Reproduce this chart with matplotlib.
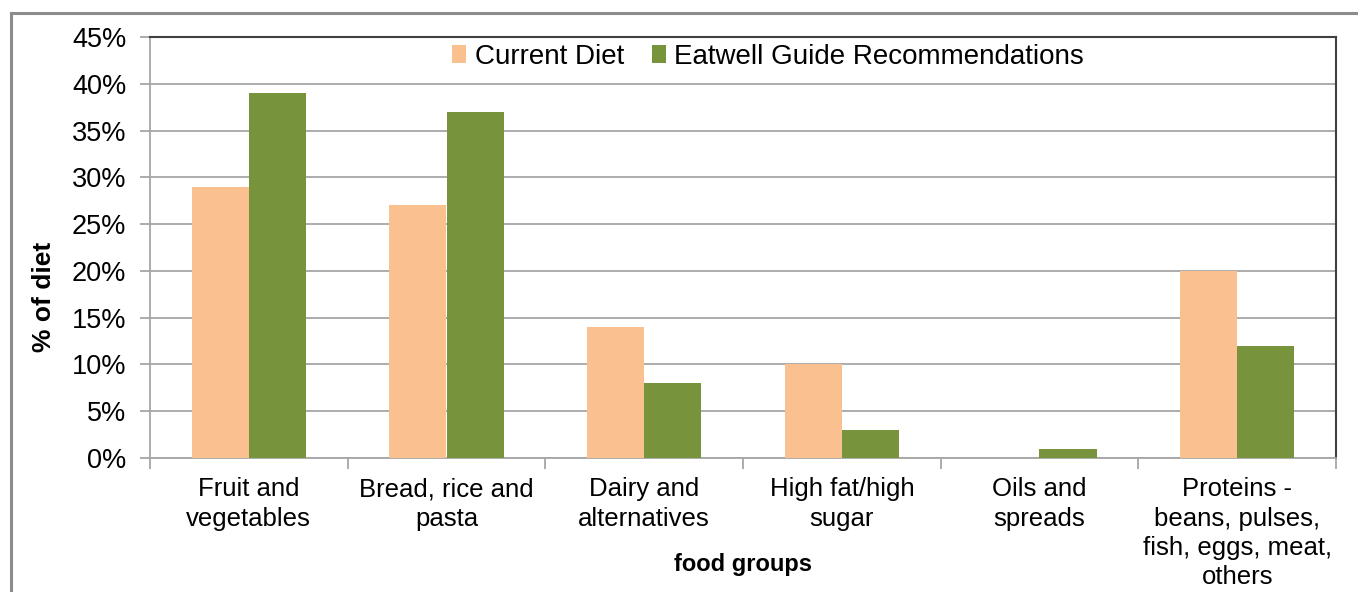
import numpy as np
import matplotlib.pyplot as plt
from matplotlib.lines import Line2D
from matplotlib.ticker import PercentFormatter, FixedLocator

plt.rcParams['font.family'] = ['Liberation Sans', 'DejaVu Sans']

categories = ["Fruit and\nvegetables", "Bread, rice and\npasta", "Dairy and\nalternatives",
              "High fat/high\nsugar", "Oils and\nspreads",
              "Proteins -\nbeans, pulses,\nfish, eggs, meat,\nothers"]
current_diet = [29, 27, 14, 10, 0, 20]
eatwell = [39, 37, 8, 3, 1, 12]
series_names = ["Current Diet", "Eatwell Guide Recommendations"]

orange = "#FAC090"
green = "#77933C"
grid_col = "#A6A6A6"

fig = plt.figure(figsize=(13.58, 5.92), dpi=100)
ax = fig.add_axes([150/1358, 1-458/592, (1336-150)/1358, (458-37)/592])

x = np.arange(len(categories))
w = 0.29
ax.bar(x - w/2, current_diet, w, color=orange, label=series_names[0], zorder=3)
ax.bar(x + w/2, eatwell, w, color=green, label=series_names[1], zorder=3)

ax.set_xlim(-0.5, len(categories) - 0.5)
ax.set_ylim(0, 45)
ax.set_yticks(np.arange(0, 46, 5))
ax.yaxis.set_major_formatter(PercentFormatter(decimals=0))
ax.grid(axis='y', color=grid_col, linewidth=1.3, zorder=0)
ax.set_axisbelow(True)

ax.set_xticks(x)
ax.set_xticklabels(categories, fontsize=18.5, linespacing=1.27)
ax.xaxis.set_minor_locator(FixedLocator(np.arange(-0.5, len(categories), 1)))
ax.tick_params(axis='x', which='major', length=0, pad=14)
ax.tick_params(axis='x', which='minor', length=8, color=grid_col, width=1.3)
ax.tick_params(axis='y', length=7, color=grid_col, width=1.3, labelsize=19.5, pad=10)

for s in ['left', 'bottom']:
    ax.spines[s].set_color(grid_col)
    ax.spines[s].set_linewidth(1.3)
for s in ['top', 'right']:
    ax.spines[s].set_color('#404040')
    ax.spines[s].set_linewidth(1.5)

ax.set_xlabel("food groups", fontsize=17, fontweight='bold')
ax.xaxis.set_label_coords(0.5, -0.225)
ax.set_ylabel("% of diet", fontsize=19, fontweight='bold')
ax.yaxis.set_label_coords(-0.079, 0.382)

ax.legend(loc='center', bbox_to_anchor=((768-150)/1186, 1-(57-37)/421), ncol=2,
          frameon=False, fontsize=20, handlelength=0.5, handleheight=0.6,
          handletextpad=0.3, columnspacing=1.0)

# outer chart border
fig.add_artist(Line2D([11/1358, 11/1358], [0, 1-13/592], color='#8C8C8C', linewidth=2.2))
fig.add_artist(Line2D([11/1358, 1], [1-13/592, 1-13/592], color='#8C8C8C', linewidth=2.2))

fig.savefig("out.png", dpi=100)
